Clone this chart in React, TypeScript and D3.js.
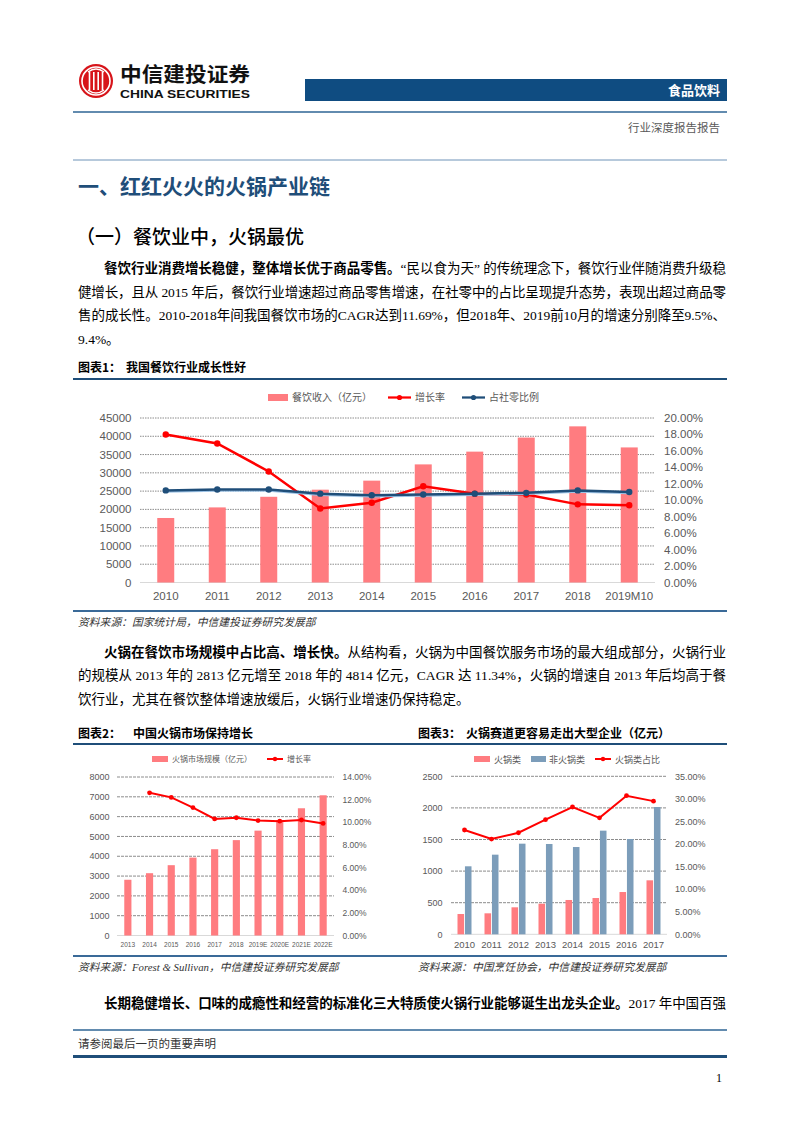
import React from 'react';
import * as d3 from 'd3';

// ---------- DATA ----------
const years1 = ['2010', '2011', '2012', '2013', '2014', '2015', '2016', '2017', '2018', '2019M10'];
const revenue1 = [17648, 20543, 23448, 25392, 27860, 32310, 35799, 39644, 42716, 36950];
const growth1 = [0.18, 0.169, 0.135, 0.09, 0.097, 0.117, 0.108, 0.107, 0.095, 0.094];
const share1 = [0.112, 0.113, 0.113, 0.108, 0.106, 0.107, 0.108, 0.109, 0.112, 0.110];
const leftTicks1 = [0, 5000, 10000, 15000, 20000, 25000, 30000, 35000, 40000, 45000];
const rightTicks1 = [0, 0.02, 0.04, 0.06, 0.08, 0.1, 0.12, 0.14, 0.16, 0.18, 0.2];

const years2 = ['2013', '2014', '2015', '2016', '2017', '2018', '2019E', '2020E', '2021E', '2022E'];
const market2 = [2813, 3145, 3549, 3932, 4355, 4814, 5293, 5830, 6422, 7077];
const growth2: (number | null)[] = [null, 0.126, 0.122, 0.113, 0.103, 0.104, 0.1015, 0.101, 0.102, 0.099];
const leftTicks2 = [0, 1000, 2000, 3000, 4000, 5000, 6000, 7000, 8000];
const rightTicks2 = [0, 0.02, 0.04, 0.06, 0.08, 0.1, 0.12, 0.14];

const years3 = ['2010', '2011', '2012', '2013', '2014', '2015', '2016', '2017'];
const hotpot3 = [321, 332, 427, 484, 543, 574, 669, 854];
const nonHotpot3 = [1076, 1260, 1434, 1429, 1381, 1640, 1508, 2014];
const ratio3 = [0.231, 0.211, 0.225, 0.254, 0.282, 0.258, 0.307, 0.295];
const leftTicks3 = [0, 500, 1000, 1500, 2000, 2500];
const rightTicks3 = [0, 0.05, 0.1, 0.15, 0.2, 0.25, 0.3, 0.35];

// ---------- TEXT ----------
type Seg = { t: string; b?: boolean };
const para1: Seg[][] = [
  [{ t: '餐饮行业消费增长稳健，整体增长优于商品零售。', b: true }, { t: '“民以食为天” 的传统理念下，餐饮行业伴随消费升级稳' }],
  [{ t: '健增长，且从 2015 年后，餐饮行业增速超过商品零售增速，在社零中的占比呈现提升态势，表现出超过商品零' }],
  [{ t: '售的成长性。2010-2018年间我国餐饮市场的CAGR达到11.69%，但2018年、2019前10月的增速分别降至9.5%、' }],
  [{ t: '9.4%。' }],
];
const para2: Seg[][] = [
  [{ t: '火锅在餐饮市场规模中占比高、增长快。', b: true }, { t: '从结构看，火锅为中国餐饮服务市场的最大组成部分，火锅行业' }],
  [{ t: '的规模从 2013 年的 2813 亿元增至 2018 年的 4814 亿元，CAGR 达 11.34%，火锅的增速自 2013 年后均高于餐' }],
  [{ t: '饮行业，尤其在餐饮整体增速放缓后，火锅行业增速仍保持稳定。' }],
];
const para3: Seg[][] = [
  [{ t: '长期稳健增长、口味的成瘾性和经营的标准化三大特质使火锅行业能够诞生出龙头企业。', b: true }, { t: '2017 年中国百强' }],
];

const BODY = "'Liberation Serif', 'Noto Sans CJK SC', serif";
const CJK = "'Noto Sans CJK SC', sans-serif";
const SANS = "'Liberation Sans', Arial, sans-serif";
const NAVY = '#1F4E79';
const BAR_RED = '#FF7C80';
const BAR_BLUE = '#7C9DBA';
const GRAY = '#595959';

const pct = (v: number) => (v * 100).toFixed(2) + '%';

function Para({ lines, x0, indentX, right, y0, lh }: { lines: Seg[][]; x0: number; indentX: number; right: number; y0: number; lh: number }) {
  return (
    <g>
      {lines.map((segs, i) => {
        const x = i === 0 ? indentX : x0;
        const last = i === lines.length - 1 && lines.length > 1;
        return (
          <text key={i} x={x} y={y0 + i * lh} fontSize={13.5} fontFamily={BODY} fill="#000"
            textLength={last ? undefined : right - x} lengthAdjust="spacing">
            {segs.map((s, j) => (
              <tspan key={j} fontWeight={s.b ? 'bold' : 'normal'} fontFamily={s.b ? CJK : BODY}>{s.t}</tspan>
            ))}
          </text>
        );
      })}
    </g>
  );
}

function Chart1() {
  const x = d3.scaleBand().domain(years1).range([140, 655]);
  const yL = d3.scaleLinear().domain([0, 45000]).range([582.5, 418]);
  const yR = d3.scaleLinear().domain([0, 0.2]).range([582.5, 418]);
  const bw = x.bandwidth() * 0.33;
  const cx = (d: string) => (x(d) as number) + x.bandwidth() / 2;
  const gLine = d3.line<number>().x((_, i) => cx(years1[i])).y((v) => yR(v));
  return (
    <g>
      {/* legend */}
      <rect x={268} y={394} width={20} height={7} fill={BAR_RED} />
      <text x={292} y={401} fontSize={10} fill={GRAY} fontFamily={CJK}>餐饮收入（亿元）</text>
      <line x1={388} x2={411} y1={397.5} y2={397.5} stroke="#FF0000" strokeWidth={2.25} />
      <circle cx={399.5} cy={397.5} r={2.6} fill="#FF0000" />
      <text x={415} y={401} fontSize={10} fill={GRAY} fontFamily={CJK}>增长率</text>
      <line x1={462} x2={485} y1={397.5} y2={397.5} stroke={NAVY} strokeWidth={2.25} />
      <circle cx={473.5} cy={397.5} r={2.6} fill={NAVY} />
      <text x={489} y={401} fontSize={10} fill={GRAY} fontFamily={CJK}>占社零比例</text>
      {/* grid */}
      {leftTicks1.map((t) => (
        <line key={t} x1={140} x2={655} y1={yL(t)} y2={yL(t)} stroke={t === 0 ? '#D9D9D9' : '#8C8C8C'} strokeWidth={1} strokeDasharray={t === 0 ? undefined : '1.5,1'} />
      ))}
      {leftTicks1.map((t) => (
        <text key={t} x={131.5} y={yL(t) + 4} textAnchor="end" fontSize={11.5} fill={GRAY} fontFamily={SANS}>{t}</text>
      ))}
      {rightTicks1.map((t) => (
        <text key={t} x={664} y={yR(t) + 4} fontSize={11.5} fill={GRAY} fontFamily={SANS}>{pct(t)}</text>
      ))}
      {years1.map((d) => (
        <text key={d} x={cx(d)} y={600} textAnchor="middle" fontSize={11.5} fill={GRAY} fontFamily={SANS}>{d}</text>
      ))}
      {revenue1.map((v, i) => (
        <rect key={i} x={cx(years1[i]) - bw / 2} y={yL(v)} width={bw} height={yL(0) - yL(v)} fill={BAR_RED} />
      ))}
      <path d={gLine(growth1) || ''} fill="none" stroke="#FF0000" strokeWidth={2.5} />
      {growth1.map((v, i) => <circle key={i} cx={cx(years1[i])} cy={yR(v)} r={3.2} fill="#FF0000" />)}
      <path d={gLine(share1) || ''} fill="none" stroke="#9DC3E6" strokeWidth={1.5} transform="translate(0,1.5)" />
      <path d={gLine(share1) || ''} fill="none" stroke={NAVY} strokeWidth={2.5} />
      {share1.map((v, i) => <circle key={i} cx={cx(years1[i])} cy={yR(v)} r={3.2} fill={NAVY} />)}
    </g>
  );
}

function Chart2() {
  const x = d3.scaleBand().domain(years2).range([117, 334]);
  const yL = d3.scaleLinear().domain([0, 8000]).range([935.5, 777]);
  const yR = d3.scaleLinear().domain([0, 0.14]).range([935.5, 777]);
  const bw = x.bandwidth() * 0.33;
  const cx = (d: string) => (x(d) as number) + x.bandwidth() / 2;
  const pts = growth2.map((v, i) => ({ v, d: years2[i] })).filter((p) => p.v !== null) as { v: number; d: string }[];
  const line = d3.line<{ v: number; d: string }>().x((p) => cx(p.d)).y((p) => yR(p.v));
  return (
    <g>
      <rect x={152} y={756} width={16} height={6} fill={BAR_RED} />
      <text x={172} y={762} fontSize={8} fill={GRAY} fontFamily={CJK}>火锅市场规模（亿元）</text>
      <line x1={267} x2={283} y1={759} y2={759} stroke="#FF0000" strokeWidth={2} />
      <circle cx={275} cy={759} r={2.2} fill="#FF0000" />
      <text x={287} y={762} fontSize={8} fill={GRAY} fontFamily={CJK}>增长率</text>
      {leftTicks2.map((t) => (
        <line key={t} x1={117} x2={334} y1={yL(t)} y2={yL(t)} stroke={t === 0 ? '#D9D9D9' : '#8C8C8C'} strokeWidth={1} strokeDasharray={t === 0 ? undefined : '3,1'} />
      ))}
      {leftTicks2.map((t) => (
        <text key={t} x={109.5} y={yL(t) + 3.2} textAnchor="end" fontSize={9} fill={GRAY} fontFamily={SANS}>{t}</text>
      ))}
      {rightTicks2.map((t) => (
        <text key={t} x={342.5} y={yR(t) + 3.2} fontSize={8.5} fill={GRAY} fontFamily={SANS}>{pct(t)}</text>
      ))}
      {years2.map((d) => (
        <text key={d} x={cx(d)} y={946.5} textAnchor="middle" fontSize={6.5} fill={GRAY} fontFamily={SANS}>{d}</text>
      ))}
      {market2.map((v, i) => (
        <rect key={i} x={cx(years2[i]) - bw / 2} y={yL(v)} width={bw} height={yL(0) - yL(v)} fill={BAR_RED} />
      ))}
      <path d={line(pts) || ''} fill="none" stroke="#FF0000" strokeWidth={2} />
      {pts.map((p) => <circle key={p.d} cx={cx(p.d)} cy={yR(p.v)} r={2.4} fill="#FF0000" />)}
    </g>
  );
}

function Chart3() {
  const x = d3.scaleBand().domain(years3).range([451, 667]);
  const yL = d3.scaleLinear().domain([0, 2500]).range([934.3, 776.3]);
  const yR = d3.scaleLinear().domain([0, 0.35]).range([934.3, 776.3]);
  const cx = (d: string) => (x(d) as number) + x.bandwidth() / 2;
  const inner = d3.scaleBand().domain(['hot', 'non']).range([-7, 7]).paddingInner(0.12);
  const line = d3.line<number>().x((_, i) => cx(years3[i])).y((v) => yR(v));
  return (
    <g>
      <rect x={474} y={756} width={16} height={6} fill={BAR_RED} />
      <text x={494} y={762.5} fontSize={9} fill={GRAY} fontFamily={CJK}>火锅类</text>
      <rect x={531} y={756} width={15} height={6} fill={BAR_BLUE} />
      <text x={549} y={762.5} fontSize={9} fill={GRAY} fontFamily={CJK}>非火锅类</text>
      <line x1={595} x2={611} y1={759} y2={759} stroke="#FF0000" strokeWidth={2} />
      <circle cx={603} cy={759} r={2.2} fill="#FF0000" />
      <text x={615} y={762.5} fontSize={9} fill={GRAY} fontFamily={CJK}>火锅类占比</text>
      {leftTicks3.map((t) => (
        <line key={t} x1={451} x2={667} y1={yL(t)} y2={yL(t)} stroke={t === 0 ? '#D9D9D9' : '#8C8C8C'} strokeWidth={1} strokeDasharray={t === 0 ? undefined : '3,1'} />
      ))}
      {leftTicks3.map((t) => (
        <text key={t} x={442.5} y={yL(t) + 3.3} textAnchor="end" fontSize={9} fill={GRAY} fontFamily={SANS}>{t}</text>
      ))}
      {rightTicks3.map((t) => (
        <text key={t} x={675} y={yR(t) + 3.3} fontSize={9} fill={GRAY} fontFamily={SANS}>{pct(t)}</text>
      ))}
      {years3.map((d) => (
        <text key={d} x={cx(d)} y={947.5} textAnchor="middle" fontSize={9.5} fill={GRAY} fontFamily={SANS}>{d}</text>
      ))}
      {hotpot3.map((v, i) => (
        <rect key={'h' + i} x={cx(years3[i]) + (inner('hot') as number)} y={yL(v)} width={inner.bandwidth()} height={yL(0) - yL(v)} fill={BAR_RED} />
      ))}
      {nonHotpot3.map((v, i) => (
        <rect key={'n' + i} x={cx(years3[i]) + (inner('non') as number)} y={yL(v)} width={inner.bandwidth()} height={yL(0) - yL(v)} fill={BAR_BLUE} />
      ))}
      <path d={line(ratio3) || ''} fill="none" stroke="#FF0000" strokeWidth={2} />
      {ratio3.map((v, i) => <circle key={i} cx={cx(years3[i])} cy={yR(v)} r={2.4} fill="#FF0000" />)}
    </g>
  );
}

function Logo() {
  return (
    <g>
      <circle cx={96} cy={81} r={17} fill="#D7141A" />
      <circle cx={96} cy={81} r={14} fill="none" stroke="#fff" strokeWidth={1.6} />
      <circle cx={96} cy={81} r={11.5} fill="#D7141A" />
      {[-6.5, -2.2, 2.2, 6.5].map((dx) => (
        <line key={dx} x1={96 + dx} x2={96 + dx} y1={72} y2={90} stroke="#fff" strokeWidth={1.6} />
      ))}
      <path d="M88,90 Q96,96 104,90" stroke="#fff" strokeWidth={1.5} fill="none" />
      <path d="M88,72 Q96,66 104,72" stroke="#fff" strokeWidth={1.5} fill="none" />
    </g>
  );
}

export default function App() {
  return (
    <svg width={802} height={1133} viewBox="0 0 802 1133" style={{ position: 'absolute', left: 0, top: 0, background: '#fff' }}>
      <rect x={0} y={0} width={802} height={1133} fill="#fff" />
      {/* header */}
      <Logo />
      <text x={120} y={82} fontSize={20} fontWeight="bold" fontFamily={CJK} fill="#111" textLength={130} lengthAdjust="spacingAndGlyphs">中信建投证券</text>
      <text x={120} y={98} fontSize={11.5} fontWeight="bold" fontFamily={SANS} fill="#111" textLength={130} lengthAdjust="spacingAndGlyphs">CHINA SECURITIES</text>
      <rect x={305} y={79} width={422} height={22} fill="#0F4C81" />
      <text x={720} y={95} fontSize={13} fontWeight="bold" fontFamily={CJK} fill="#fff" textAnchor="end">食品饮料</text>
      <line x1={73} x2={727} y1={112} y2={112} stroke="#2E6595" strokeWidth={1.5} />
      <text x={720} y={132} fontSize={11.5} fontFamily={CJK} fill={GRAY} textAnchor="end">行业深度报告报告</text>
      <line x1={73} x2={727} y1={160} y2={160} stroke="#6F93B8" strokeWidth={1} />

      {/* headings */}
      <text x={78} y={194} fontSize={21} fontWeight="bold" fontFamily={CJK} fill={NAVY}>一、红红火火的火锅产业链</text>
      <text x={76} y={244} fontSize={19} fontWeight="500" fontFamily={CJK} fill="#000">（一）餐饮业中，火锅最优</text>

      <Para lines={para1} x0={78} indentX={104} right={726} y0={273} lh={23.6} />

      {/* chart 1 */}
      <text x={78} y={372} fontSize={12} fontWeight="bold" fontFamily={CJK} fill="#000">图表1：</text>
      <text x={126} y={372} fontSize={12} fontWeight="bold" fontFamily={CJK} fill="#000">我国餐饮行业成长性好</text>
      <line x1={73} x2={727} y1={379} y2={379} stroke={NAVY} strokeWidth={2} />
      <Chart1 />
      <line x1={73} x2={727} y1={611} y2={611} stroke="#3A6A98" strokeWidth={2} />
      <text x={78} y={626} fontSize={10.8} fontStyle="italic" fontFamily={BODY} fill="#333">资料来源：国家统计局，中信建投证券研究发展部</text>

      <Para lines={para2} x0={78} indentX={104} right={726} y0={657} lh={23.3} />

      {/* charts 2 & 3 */}
      <text x={78} y={738} fontSize={12} fontWeight="bold" fontFamily={CJK} fill="#000">图表2：</text>
      <text x={133} y={738} fontSize={12} fontWeight="bold" fontFamily={CJK} fill="#000">中国火锅市场保持增长</text>
      <text x={418} y={738} fontSize={12} fontWeight="bold" fontFamily={CJK} fill="#000">图表3：</text>
      <text x={466} y={738} fontSize={12} fontWeight="bold" fontFamily={CJK} fill="#000">火锅赛道更容易走出大型企业（亿元）</text>
      <line x1={73} x2={727} y1={744} y2={744} stroke={NAVY} strokeWidth={2} />
      <Chart2 />
      <Chart3 />
      <line x1={73} x2={727} y1={956} y2={956} stroke="#3A6A98" strokeWidth={2} />
      <text x={78} y={971} fontSize={10.8} fontStyle="italic" fontFamily={BODY} fill="#333">资料来源：Forest &amp; Sullivan，中信建投证券研究发展部</text>
      <text x={418} y={971} fontSize={10.8} fontStyle="italic" fontFamily={BODY} fill="#333">资料来源：中国烹饪协会，中信建投证券研究发展部</text>

      <Para lines={para3} x0={78} indentX={104} right={726} y0={1008} lh={23.3} />

      {/* footer */}
      <line x1={73} x2={727} y1={1030} y2={1030} stroke="#2E6595" strokeWidth={1.5} />
      <text x={78} y={1048} fontSize={11.5} fontFamily={CJK} fill="#333">请参阅最后一页的重要声明</text>
      <line x1={73} x2={727} y1={1056.5} y2={1056.5} stroke="#1F4E79" strokeWidth={3} />
      <text x={722} y={1082} fontSize={12} fontFamily={BODY} fill="#000" textAnchor="end">1</text>
    </svg>
  );
}
